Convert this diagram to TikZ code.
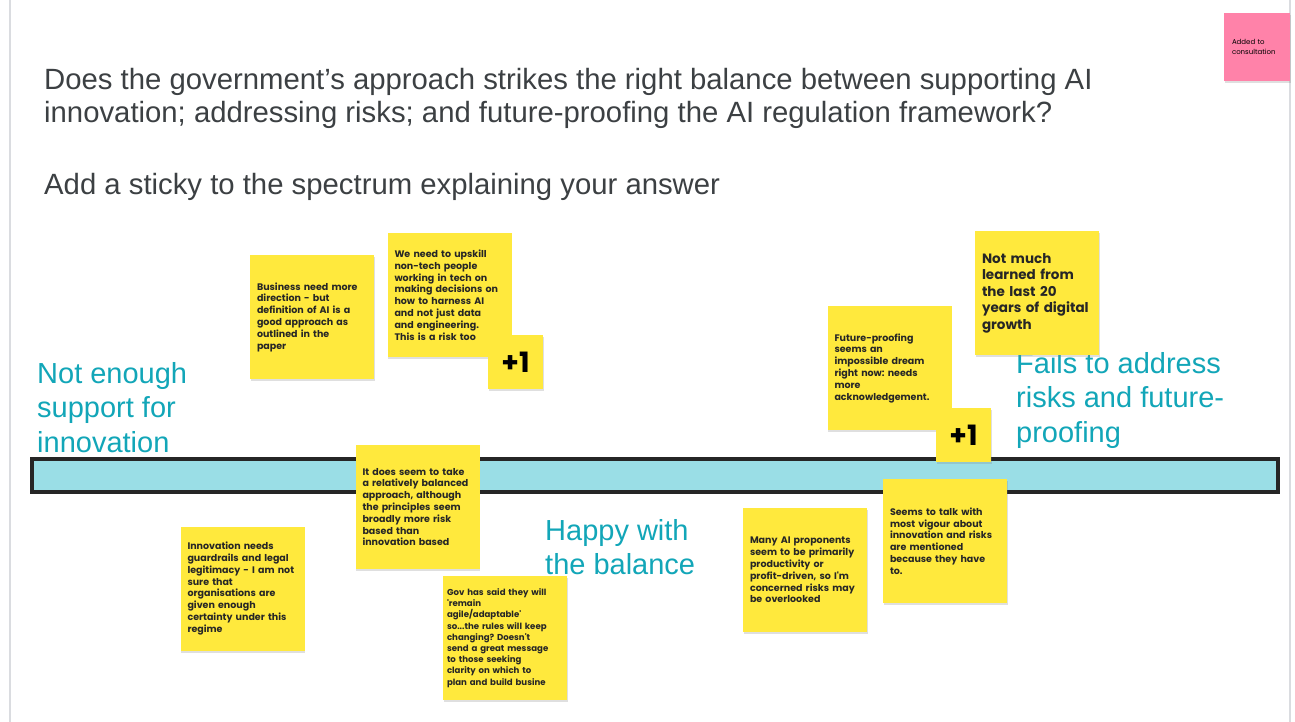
\documentclass[tikz,border=0pt]{standalone}
\usepackage{fontspec}
\setmainfont{Liberation Sans}
\newfontfamily\stickyfont{Poppins}
\usepackage{xcolor}
\usepackage{tikz}
\usetikzlibrary{positioning, shadows}
\definecolor{stickyyellow}{HTML}{FFE93D}
\definecolor{stickypink}{HTML}{FF82A9}
\definecolor{labelcyan}{HTML}{12A6B8}
\definecolor{barcyan}{HTML}{9ADEE6}
\definecolor{titlegrey}{HTML}{3C4043}
\definecolor{framegrey}{HTML}{DADCE0}
\frenchspacing

\begin{document}
\begin{tikzpicture}[x=1pt,y=-1pt]
					\tikzstyle{note}=[fill=stickyyellow,inner sep=0pt,drop shadow={shadow xshift=0.5pt,shadow yshift=-2pt,opacity=0.25}]
					\tikzstyle{sticky}=[note,minimum width=124pt,minimum height=124pt,text width=110pt,inner xsep=7pt,align=left,text=black!85,font=\stickyfont\bfseries\fontsize{9.5}{11.8}\selectfont]
					\tikzstyle{plusone}=[note,minimum width=55pt,minimum height=54pt,font=\stickyfont\bfseries\fontsize{28}{30}\selectfont]
					\tikzstyle{heading}=[anchor=north west,inner sep=0pt,align=left,text=titlegrey,font=\fontsize{29.3}{33}\selectfont]
					\tikzstyle{endlabel}=[anchor=north west,inner sep=0pt,align=left,text=labelcyan,font=\fontsize{29}{34.5}\selectfont]
					\useasboundingbox[fill=white] (0,0) rectangle (1295,722);
					% slide frame
					\draw[framegrey,line width=1.5pt] (10,0) -- (10,722) (1290,0) -- (1290,722);
					\node[note,fill=stickypink,minimum width=66pt,minimum height=68pt,text width=50pt,inner xsep=8pt,align=left,font=\stickyfont\fontsize{7}{9.5}\selectfont](added) at (1257,47){Added to\\consultation};
					\node[heading](question) at (44,68){Does the government's approach strikes the right balance between supporting AI\\innovation; addressing risks; and future-proofing the AI regulation framework?};
					\node[heading](ask) at (44,173){Add a sticky to the spectrum explaining your answer};
					% the spectrum
					\node[draw=black!85,line width=4pt,fill=barcyan,minimum width=1246pt,minimum height=33pt,inner sep=0pt](spectrum) at (655,475.5){};
					\node[endlabel](notenough) at (37,362){Not enough\\support for\\innovation};
					\node[endlabel](happy) at (545,519){Happy with\\the balance};
					\node[endlabel](fails) at (1016,352){Fails to address\\risks and future-\\proofing};
					% stickies
					\node[sticky](business) at (312,317){Business need more\\direction - but\\definition of AI is a\\good approach as\\outlined in the\\paper};
					\node[sticky](upskill) at (449.5,295){We need to upskill\\non-tech people\\working in tech on\\making decisions on\\how to harness AI\\and not just data\\and engineering.\\This is a risk too};
					\node[plusone](plusA) at (515.5,362){+1};
					\node[sticky](future) at (889.5,368){Future-proofing\\seems an\\impossible dream\\right now: needs\\more\\acknowledgement.};
					\node[plusone](plusB) at (963.5,435){+1};
					\node[sticky,font=\stickyfont\bfseries\fontsize{13.5}{16.5}\selectfont](notmuch) at (1037,293){Not much\\learned from\\the last 20\\years of digital\\growth};
					\node[sticky](balanced) at (417.5,507){It does seem to take\\a relatively balanced\\approach, although\\the principles seem\\broadly more risk\\based than\\innovation based};
					\node[sticky](guardrails) at (242.5,588.5){Innovation needs\\guardrails and legal\\legitimacy - I am not\\sure that\\organisations are\\given enough\\certainty under this\\regime};
					\node[sticky,text width=116pt,inner xsep=4pt,font=\stickyfont\bfseries\fontsize{8.6}{11.2}\selectfont](gov) at (505,638){Gov has said they will\\'remain\\agile/adaptable'\\so...the rules will keep\\changing? Doesn't\\send a great message\\to those seeking\\clarity on which to\\plan and build busine};
					\node[sticky](proponents) at (805,570){Many AI proponents\\seem to be primarily\\productivity or\\profit-driven, so I'm\\concerned risks may\\be overlooked};
					\node[sticky](vigour) at (945,541){Seems to talk with\\most vigour about\\innovation and risks\\are mentioned\\because they have\\to.};
				\end{tikzpicture}
\end{document}
